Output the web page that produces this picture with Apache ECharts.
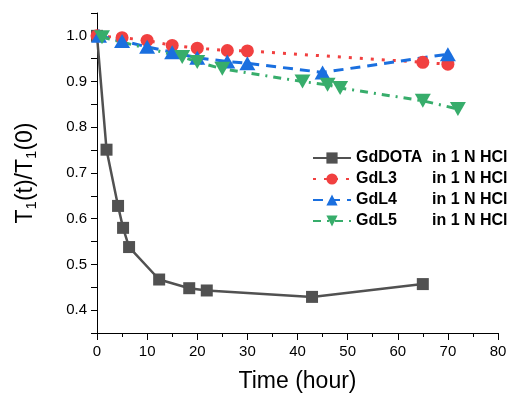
<!DOCTYPE html>
<html>
<head>
<meta charset="utf-8">
<script src="https://cdn.jsdelivr.net/npm/echarts@6/dist/echarts.min.js"></script>
<style>
  html, body { margin: 0; padding: 0; background: #fff; }
  #chart { width: 511px; height: 398px; }
</style>
</head>
<body>
<div id="chart"></div>
<script>
// relaxation ratio vs time
const dotaTime = [0, 1.9, 4.2, 5.2, 6.4, 12.4, 18.4, 21.9, 42.9, 65];
const dotaRatio = [1.0, 0.751, 0.628, 0.580, 0.538, 0.467, 0.448, 0.443, 0.429, 0.457];

const l3Time = [0, 5, 10, 15, 20, 26, 30, 65, 70];
const l3Ratio = [1.0, 0.996, 0.990, 0.979, 0.973, 0.968, 0.967, 0.942, 0.938];

const l4Time = [0.4, 5, 10, 15, 20, 26, 30, 45, 70];
const l4Ratio = [1.0, 0.989, 0.976, 0.964, 0.952, 0.944, 0.940, 0.920, 0.960];

const l5Time = [1, 17, 20, 25, 41, 46, 48.5, 65, 72];
const l5Ratio = [0.997, 0.954, 0.943, 0.928, 0.900, 0.893, 0.886, 0.858, 0.840];

const seriesNames = ['GdDOTA', 'GdL3', 'GdL4', 'GdL5'];
const colors = ['#515151', '#F14040', '#1A6FDF', '#37AD6B'];

const font = 'Arial, "Liberation Sans", sans-serif';

function pairs(xs, ys) {
  return xs.map((x, i) => [x, ys[i]]);
}

const chart = echarts.init(document.getElementById('chart'), null, { renderer: 'canvas' });

const option = {
  animation: false,
  color: colors,
  grid: { left: 97, right: 13, top: 13, bottom: 63 },
  legend: {
    orient: 'vertical',
    left: 312,
    top: 150,
    padding: 0,
    itemWidth: 38,
    itemHeight: 14,
    itemGap: 5,
    data: seriesNames,
    formatter: name => '{a|' + name + '}{b|in 1 N HCl}',
    textStyle: {
      rich: {
        a: { width: 76, fontSize: 16, lineHeight: 16, fontWeight: 'bold', color: '#000', fontFamily: font },
        b: { fontSize: 16, lineHeight: 16, fontWeight: 'bold', color: '#000', fontFamily: font }
      }
    }
  },
  xAxis: {
    type: 'value',
    min: 0,
    max: 80,
    interval: 10,
    name: 'Time (hour)',
    nameLocation: 'middle',
    nameGap: 37,
    nameTextStyle: { fontSize: 23, color: '#000', fontFamily: font },
    axisLine: { lineStyle: { color: '#000', width: 1 } },
    axisTick: { length: 7, lineStyle: { color: '#000' } },
    minorTick: { show: true, splitNumber: 2, length: 4, lineStyle: { color: '#000' } },
    axisLabel: { fontSize: 15, color: '#000', margin: 11, fontFamily: font },
    splitLine: { show: false }
  },
  yAxis: {
    type: 'value',
    min: 0.35,
    max: 1.05,
    interval: 0.05,
    name: 'T{s|1}(t)/T{s|1}(0)',
    nameLocation: 'middle',
    nameRotate: 90,
    nameGap: 60,
    nameTextStyle: {
      fontSize: 23, color: '#000', fontFamily: font,
      rich: { s: { fontSize: 15, lineHeight: 15, padding: [12, 0, 0, 0], color: '#000', fontFamily: font } }
    },
    axisLine: { show: true, lineStyle: { color: '#000', width: 1 } },
    axisTick: { length: 6, lineStyle: { color: '#000' } },
    axisLabel: {
      fontSize: 15, color: '#000', margin: 10, fontFamily: font,
      formatter: v => {
        const k = Math.round(v * 100);
        return (k % 10 === 0) ? (k / 100).toFixed(1) : '';
      }
    },
    splitLine: { show: false }
  },
  series: [
    {
      name: 'GdDOTA', type: 'line',
      data: pairs(dotaTime, dotaRatio),
      symbol: 'rect', symbolSize: 12,
      lineStyle: { width: 2.5, color: colors[0] },
      itemStyle: { color: colors[0] }
    },
    {
      name: 'GdL3', type: 'line',
      data: pairs(l3Time, l3Ratio),
      symbol: 'circle', symbolSize: 13,
      lineStyle: { width: 3, color: colors[1], type: [3, 8] },
      itemStyle: { color: colors[1] }
    },
    {
      name: 'GdL4', type: 'line',
      data: pairs(l4Time, l4Ratio),
      symbol: 'triangle', symbolSize: [16, 14],
      lineStyle: { width: 3, color: colors[2], type: [10, 7] },
      itemStyle: { color: colors[2] }
    },
    {
      name: 'GdL5', type: 'line',
      data: pairs(l5Time, l5Ratio),
      symbol: 'triangle', symbolRotate: 180, symbolSize: [16, 14],
      lineStyle: { width: 3, color: colors[3], type: [8, 6, 2, 6] },
      itemStyle: { color: colors[3] }
    }
  ]
};

chart.setOption(option);
</script>
</body>
</html>
